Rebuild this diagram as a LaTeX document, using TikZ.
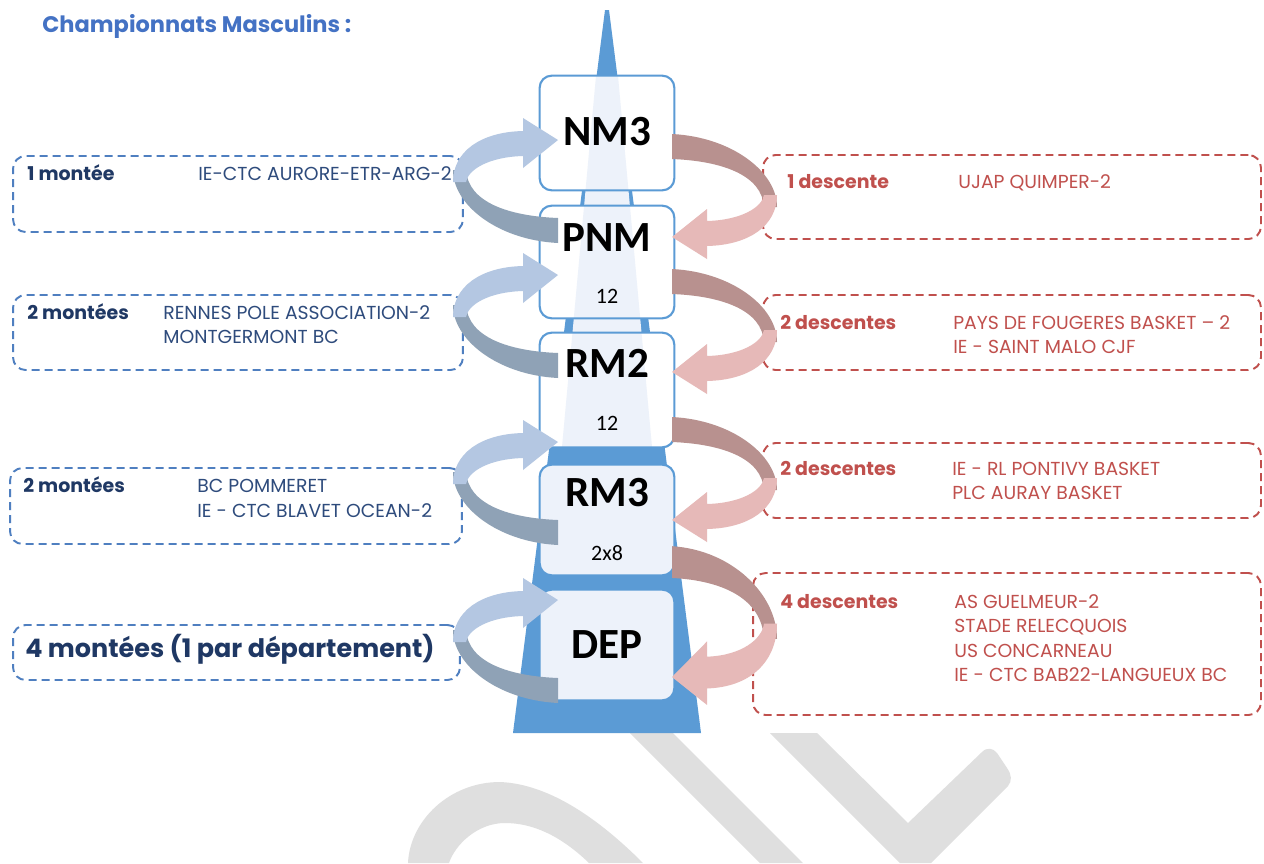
\documentclass[tikz,border=0pt]{standalone}
\usepackage{fontspec}
\setmainfont{Poppins}
\newfontfamily\calib{Carlito}
\definecolor{bluemain}{HTML}{5B9BD5}
\definecolor{stripe}{HTML}{EDF2FA}
\definecolor{wm}{HTML}{DFDFDF}
\definecolor{llight}{HTML}{B4C7E2}
\definecolor{ldark}{HTML}{8FA2B6}
\definecolor{rlight}{HTML}{E6B9B8}
\definecolor{rdark}{HTML}{B8918F}
\definecolor{ltxt}{HTML}{2E4B7C}
\definecolor{lbold}{HTML}{1F3864}
\definecolor{ldashc}{HTML}{4F7FC0}
\definecolor{rtxt}{HTML}{C0504D}
\definecolor{titlec}{HTML}{4472C4}
\tikzset{
  lvl/.style={rectangle, rounded corners=0.24cm, minimum width=2.68cm, inner sep=0pt},
  lvlborder/.style={draw=bluemain, line width=1.2pt, rounded corners=0.24cm},
  ldash/.style={rectangle, draw=ldashc, line width=1.1pt, dash pattern=on 0.16cm off 0.1cm, rounded corners=0.25cm, inner sep=0pt},
  rdash/.style={rectangle, draw=rtxt, line width=1.1pt, dash pattern=on 0.16cm off 0.1cm, rounded corners=0.25cm, inner sep=0pt},
  lname/.style={anchor=base west, inner sep=0pt, text=ltxt, font=\fontsize{10.7}{12}\selectfont},
  llab/.style={anchor=base west, inner sep=0pt, text=lbold, font=\fontsize{10.8}{12}\selectfont\bfseries},
  rname/.style={anchor=base west, inner sep=0pt, text=rtxt, font=\fontsize{10.7}{12}\selectfont},
  rlab/.style={anchor=base west, inner sep=0pt, text=rtxt, font=\fontsize{10.8}{12}\selectfont\bfseries},
  big/.style={anchor=base, inner sep=0pt, font=\calib\fontsize{24.5}{28}\selectfont\bfseries},
  num/.style={anchor=base, inner sep=0pt, font=\calib\fontsize{12.5}{14}\selectfont},
}
\newcommand{\ringarrow}[5]{%
  \begin{scope}[shift={(#1,#2)}, #3]
    \fill[#4] (-105,30) .. controls (-105,65) and (-60,100) .. (0,103) -- (0,78)
      .. controls (-50,76) and (-90,62) .. (-92,30) -- cycle;
    \fill[#5] (0,0) -- (-35,-22) -- (-35,-9) .. controls (-78,-8) and (-105,12) .. (-105,42)
      -- (-92,42) .. controls (-90,30) and (-70,17) .. (-35,16) -- (-35,28) -- cycle;
  \end{scope}}
\begin{document}
\begin{tikzpicture}[x=0.02cm,y=-0.02cm]
\useasboundingbox (0,0) rectangle (1264,863);
\fill[white] (0,0) rectangle (1264,863);
% watermark
\fill[wm] (630,733) -- (673,733) -- (803,863) -- (760,863) -- cycle;
\fill[wm] (770,733) -- (817,733) -- (908,823) -- (982,752) .. controls (987,747) and (993,748) .. (997,753)
  -- (1007,768) .. controls (1012,775) and (1012,781) .. (1008,786) -- (931,863) -- (900,863) -- cycle;
\fill[wm] (408,863) .. controls (410,820) and (450,782) .. (500,782) .. controls (550,784) and (600,820) .. (643,863)
  -- (589,863) .. controls (560,835) and (532,823) .. (505,823) .. controls (477,823) and (455,845) .. (449,863) -- cycle;
% title
\node[anchor=base west, inner sep=0pt, text=titlec, font=\fontsize{12.8}{14}\selectfont\bfseries] (title) at (42,32) {Championnats Masculins :};
% pyramid
\fill[bluemain] (605,10) -- (609,10) -- (701,733) -- (513,733) -- cycle;
\node[lvl, fill=white, minimum height=2.28cm] (nm3) at (607,133) {};
\node[lvl, fill=white, minimum height=2.24cm] (pnm) at (607,262) {};
\node[lvl, fill=white, minimum height=2.28cm] (rm2) at (607,390) {};
\node[lvl, fill=stripe, minimum height=2.2cm] (rm3) at (607,520) {};
\node[lvl, fill=stripe, minimum height=2.2cm] (dep) at (607,645) {};
\fill[stripe] (596,76) -- (618,76) -- (652,447) -- (562,447) -- cycle;
\foreach \b in {nm3,pnm,rm2,rm3,dep}{\draw[lvlborder] (\b.north west) rectangle (\b.south east);}
\node[big] (tnm3) at (607,145) {NM3};
\node[big] (tpnm) at (607,251) {PNM};
\node[num] (npnm) at (607,303) {12};
\node[big] (trm2) at (607,377) {RM2};
\node[num] (nrm2) at (607,430) {12};
\node[big] (trm3) at (607,506) {RM3};
\node[num] (nrm3) at (607,560) {2x8};
\node[big] (tdep) at (607,658) {DEP};
% dashed boxes
\node[ldash, minimum width=9cm, minimum height=1.52cm] (lb1) at (238,194) {};
\node[ldash, minimum width=9cm, minimum height=1.5cm] (lb2) at (238,332.5) {};
\node[ldash, minimum width=9.04cm, minimum height=1.52cm] (lb3) at (236,506) {};
\node[ldash, minimum width=8.94cm, minimum height=1.1cm] (lb4) at (236.5,652.5) {};
\node[rdash, minimum width=9.96cm, minimum height=1.68cm] (rb1) at (1012,197) {};
\node[rdash, minimum width=9.96cm, minimum height=1.5cm] (rb2) at (1012,332.5) {};
\node[rdash, minimum width=9.96cm, minimum height=1.5cm] (rb3) at (1012,480.5) {};
\node[rdash, minimum width=10.16cm, minimum height=2.84cm] (rb4) at (1007,644) {};
% texts left
\node[llab] (l1a) at (27,180) {1 montée};
\node[lname] (l1b) at (198,180) {IE-CTC AURORE-ETR-ARG-2};
\node[llab] (l2a) at (27,319) {2 montées};
\node[lname] (l2b) at (163,319) {RENNES POLE ASSOCIATION-2};
\node[lname] (l2c) at (163,343) {MONTGERMONT BC};
\node[llab] (l3a) at (23,492) {2 montées};
\node[lname] (l3b) at (197,492) {BC POMMERET};
\node[lname] (l3c) at (197,517) {IE - CTC BLAVET OCEAN-2};
\node[llab, font=\fontsize{14.5}{16}\selectfont\bfseries] (l4a) at (25,657) {4 montées (1 par département)};
% texts right
\node[rlab] (r1a) at (787,188) {1 descente};
\node[rname] (r1b) at (958,188) {UJAP QUIMPER-2};
\node[rlab] (r2a) at (780,329) {2 descentes};
\node[rname] (r2b) at (953,329) {PAYS DE FOUGERES BASKET – 2};
\node[rname] (r2c) at (953,353) {IE - SAINT MALO CJF};
\node[rlab] (r3a) at (780,475) {2 descentes};
\node[rname] (r3b) at (952,475) {IE - RL PONTIVY BASKET};
\node[rname] (r3c) at (952,499) {PLC AURAY BASKET};
\node[rlab] (r4a) at (780,608) {4 descentes};
\node[rname] (r4b) at (954,608) {AS GUELMEUR-2};
\node[rname] (r4c) at (954,632) {STADE RELECQUOIS};
\node[rname] (r4d) at (954,657) {US CONCARNEAU};
\node[rname] (r4e) at (954,681) {IE - CTC BAB22-LANGUEUX BC};
% ring arrows
\ringarrow{558}{140}{}{ldark}{llight}
\ringarrow{558}{275}{}{ldark}{llight}
\ringarrow{558}{442}{}{ldark}{llight}
\ringarrow{558}{600}{}{ldark}{llight}
\ringarrow{672}{237}{xscale=-1,yscale=-1}{rdark}{rlight}
\ringarrow{672}{372}{xscale=-1,yscale=-1}{rdark}{rlight}
\ringarrow{672}{520}{xscale=-1,yscale=-1}{rdark}{rlight}
\ringarrow{672}{677}{xscale=-1,yscale=-1.27}{rdark}{rlight}
\end{tikzpicture}
\end{document}
